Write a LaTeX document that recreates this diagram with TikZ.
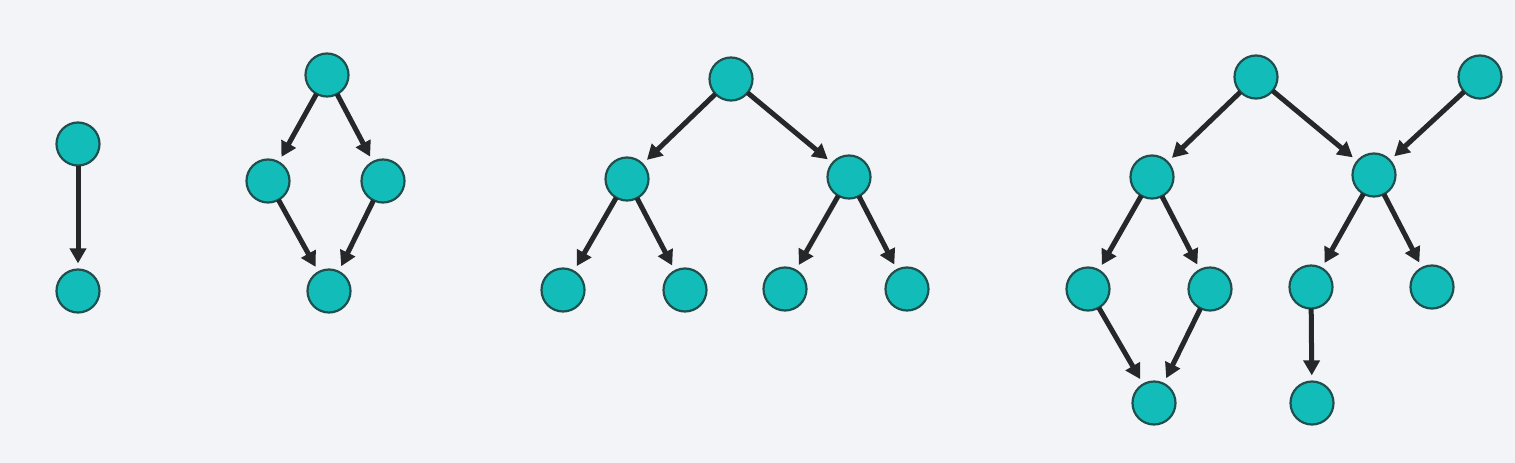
\documentclass[tikz,border=0pt]{standalone}
\usetikzlibrary{arrows.meta}
\definecolor{bg}{HTML}{F2F4F7}
\definecolor{nodefill}{HTML}{12BDB9}
\definecolor{nodeedge}{HTML}{1F4F4E}
\definecolor{arrowc}{HTML}{262729}
\tikzset{
  vertex/.style={circle, fill=nodefill, draw=nodeedge, line width=2.2pt, minimum size=43pt, inner sep=0pt},
  edge/.style={-{Triangle[length=15pt,width=16pt]}, draw=arrowc, line width=5pt, shorten >=5pt, shorten <=-1pt}
}
\begin{document}
\begin{tikzpicture}[x=1pt,y=-1pt]
\fill[bg] (0,0) rectangle (1515,463);
\useasboundingbox (0,0) rectangle (1515,463);
% graph 1
\node[vertex] (a1) at (78,144) {};
\node[vertex] (a2) at (78,291) {};
\draw[edge] (a1) -- (a2);
% graph 2
\node[vertex] (b1) at (327,75) {};
\node[vertex] (b2) at (268,181) {};
\node[vertex] (b3) at (383,181) {};
\node[vertex] (b4) at (329,291) {};
\draw[edge] (b1) -- (b2);
\draw[edge] (b1) -- (b3);
\draw[edge] (b2) -- (b4);
\draw[edge] (b3) -- (b4);
% graph 3
\node[vertex] (c1) at (731,79) {};
\node[vertex] (c2) at (627,179) {};
\node[vertex] (c3) at (849,177) {};
\node[vertex] (c4) at (563,290) {};
\node[vertex] (c5) at (685,290) {};
\node[vertex] (c6) at (785,289) {};
\node[vertex] (c7) at (907,289) {};
\draw[edge] (c1) -- (c2);
\draw[edge] (c1) -- (c3);
\draw[edge] (c2) -- (c4);
\draw[edge] (c2) -- (c5);
\draw[edge] (c3) -- (c6);
\draw[edge] (c3) -- (c7);
% graph 4
\node[vertex] (d1) at (1256,77) {};
\node[vertex] (d0) at (1480,77) {};
\node[vertex] (d2) at (1152,177) {};
\node[vertex] (d3) at (1374,175) {};
\node[vertex] (d4) at (1088,289) {};
\node[vertex] (d5) at (1210,289) {};
\node[vertex] (d6) at (1311,287) {};
\node[vertex] (d9) at (1312,403) {};
\node[vertex] (d7) at (1432,287) {};
\node[vertex] (d8) at (1154,403) {};
\draw[edge] (d1) -- (d2);
\draw[edge] (d1) -- (d3);
\draw[edge] (d0) -- (d3);
\draw[edge] (d2) -- (d4);
\draw[edge] (d2) -- (d5);
\draw[edge] (d4) -- (d8);
\draw[edge] (d5) -- (d8);
\draw[edge] (d3) -- (d6);
\draw[edge] (d3) -- (d7);
\draw[edge] (d6) -- (d9);
\end{tikzpicture}
\end{document}
